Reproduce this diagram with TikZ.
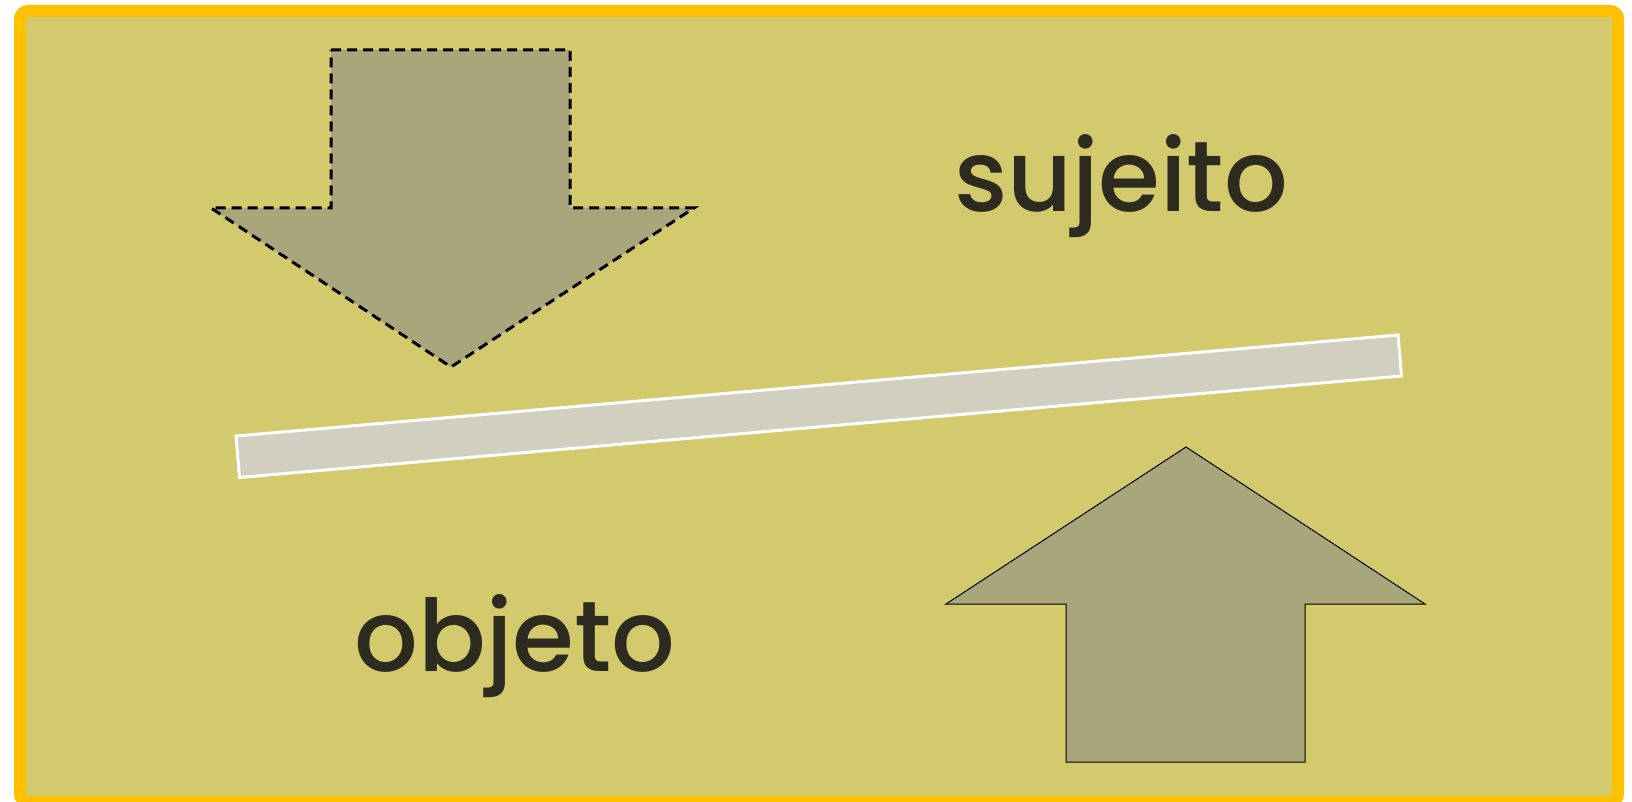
\documentclass[tikz,border=0pt]{standalone}
\usepackage{fontspec}
\setmainfont{Poppins}[BoldFont={Poppins Medium}]
\begin{document}
\begin{tikzpicture}[x=0.5pt,y=-0.5pt]
\definecolor{fillColor}{RGB}{210,202,108}
\definecolor{frameColor}{RGB}{255,192,0}
\definecolor{arrowColor}{RGB}{169,166,123}
\definecolor{barColor}{RGB}{209,207,191}
\definecolor{textColor}{RGB}{45,42,31}
\tikzset{
  word/.style={text=textColor,anchor=base,inner sep=0pt,outer sep=0pt,font=\fontsize{50}{50}\selectfont\bfseries},
  arrowshape/.style={fill=arrowColor,draw=black,line join=miter}
}
\path[use as bounding box] (0,0) rectangle (1632,802);
\begin{scope}
\path[clip] (0,0) rectangle (1632,802);

\path[fill=fillColor,draw=frameColor,line width=6pt,rounded corners=4pt] ( 20, 11) rectangle (1618,802);

\path[arrowshape,line width=1.5pt,dash pattern=on 5pt off 3pt] (331, 50) -- (570, 50) -- (570,208) -- (694,208) --
	(451,367) -- (211,208) -- (331,208) -- cycle;

\path[arrowshape,line width=0.5pt] (1186,447) -- (1425,604) -- (1305,604) -- (1305,762) --
	(1066,762) -- (1066,604) -- (946,604) -- cycle;

\path[fill=barColor,draw=white,line width=1.5pt] (236,436) -- (1398,335) -- (1401.5,376) -- (239.5,477.5) -- cycle;
\end{scope}

\node[word] (sujeito) at (1121,212) {sujeito};

\node[word] (objeto) at (515,671) {objeto};
\end{tikzpicture}
\end{document}
